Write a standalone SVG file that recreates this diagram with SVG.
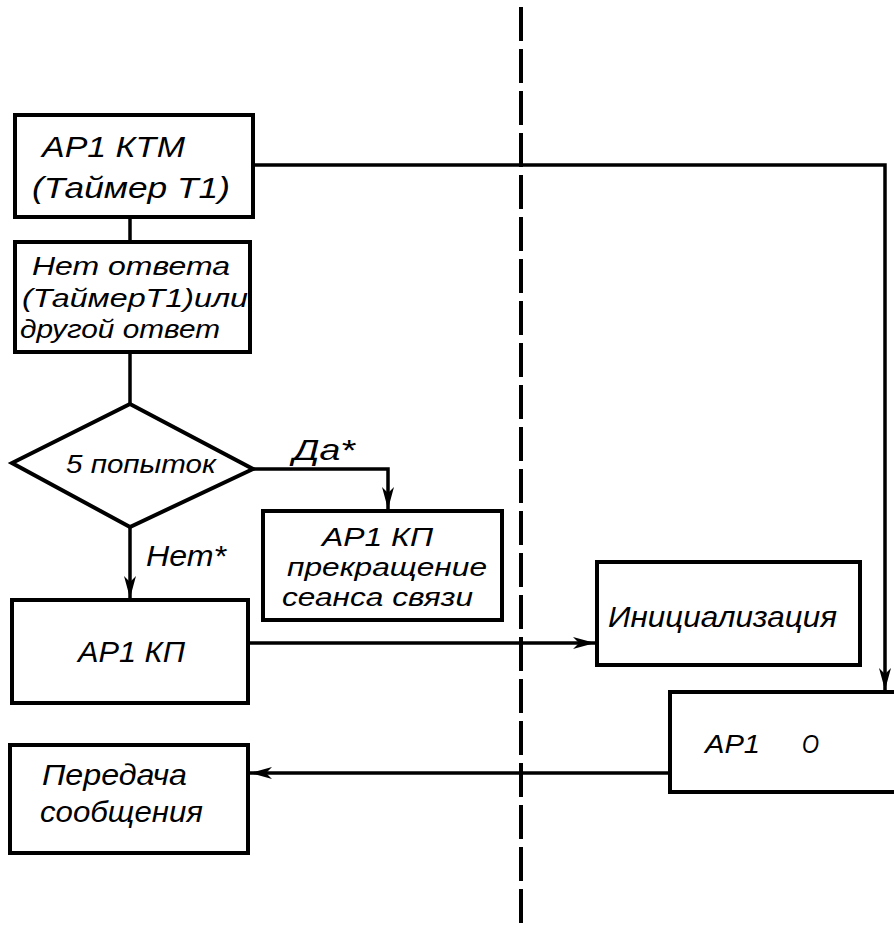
<svg xmlns="http://www.w3.org/2000/svg" width="894" height="930" viewBox="0 0 894 930">
<style>
.box{fill:#fff;stroke:#000;stroke-width:4}
.ln{fill:none;stroke:#000;stroke-width:3.5}
.t{font-family:"Liberation Sans","DejaVu Sans",sans-serif;font-style:italic;font-size:29px;fill:#000}
.s{font-size:26px}
.dash{fill:none;stroke:#000;stroke-width:4;stroke-dasharray:34 8}
</style>
<defs>
<marker id="ah" markerUnits="userSpaceOnUse" markerWidth="24" markerHeight="12" refX="22" refY="6" orient="auto">
<path d="M0,0 L22,6 L0,12 L6,6 z" fill="#000"/>
</marker>
</defs>
<rect width="894" height="930" fill="#fff"/>
<line class="dash" x1="521" y1="7" x2="521" y2="930"/>
<g id="connectors">
<polyline class="ln" points="253,165 885,165 885,690" marker-end="url(#ah)"/>
<line class="ln" x1="130" y1="217" x2="130" y2="242"/>
<line class="ln" x1="130" y1="352" x2="130" y2="404"/>
<polyline class="ln" points="253,469 388,469 388,509" marker-end="url(#ah)"/>
<line class="ln" x1="130" y1="527" x2="130" y2="598" marker-end="url(#ah)"/>
<line class="ln" x1="248" y1="643" x2="595" y2="643" marker-end="url(#ah)"/>
<line class="ln" x1="670" y1="773" x2="250" y2="773" marker-end="url(#ah)"/>
<text class="t" x="293" y="460" textLength="62" lengthAdjust="spacingAndGlyphs">Да*</text>
<text class="t" x="146" y="566" textLength="80" lengthAdjust="spacingAndGlyphs">Нет*</text>
</g>
<g id="ktm">
<rect class="box" x="15" y="115" width="238" height="102"/>
<text class="t" x="42" y="157" textLength="143" lengthAdjust="spacingAndGlyphs">АР1 КТМ</text>
<text class="t" x="32" y="198" textLength="198" lengthAdjust="spacingAndGlyphs">(Таймер Т1)</text>
</g>
<g id="no-answer">
<rect class="box" x="15" y="242" width="235" height="110"/>
<text class="t s" x="32" y="275" textLength="198" lengthAdjust="spacingAndGlyphs">Нет ответа</text>
<text class="t s" x="22" y="307" textLength="226" lengthAdjust="spacingAndGlyphs">(ТаймерТ1)или</text>
<text class="t s" x="20" y="338" textLength="200" lengthAdjust="spacingAndGlyphs">другой ответ</text>
</g>
<g id="attempts">
<polygon class="box" points="130,404 253,469 130,527 12,463"/>
<text class="t s" x="66" y="473" textLength="150" lengthAdjust="spacingAndGlyphs">5 попыток</text>
</g>
<g id="kp-stop">
<rect class="box" x="263" y="511" width="239" height="109"/>
<text class="t s" x="322" y="546" textLength="111" lengthAdjust="spacingAndGlyphs">АР1 КП</text>
<text class="t s" x="287" y="576" textLength="200" lengthAdjust="spacingAndGlyphs">прекращение</text>
<text class="t s" x="282" y="606" textLength="191" lengthAdjust="spacingAndGlyphs">сеанса связи</text>
</g>
<g id="kp">
<rect class="box" x="12" y="600" width="236" height="103"/>
<text class="t" x="78" y="662" textLength="107" lengthAdjust="spacingAndGlyphs">АР1 КП</text>
</g>
<g id="init">
<rect class="box" x="597" y="562" width="263" height="103"/>
<text class="t" x="608" y="627" textLength="229" lengthAdjust="spacingAndGlyphs">Инициализация</text>
</g>
<g id="ap1-o">
<rect class="box" x="670" y="692" width="240" height="100"/>
<text class="t s" x="705" y="753" textLength="55" lengthAdjust="spacingAndGlyphs">АР1</text>
<text class="t s" x="802" y="753" textLength="17" lengthAdjust="spacingAndGlyphs">О</text>
</g>
<g id="send">
<rect class="box" x="10" y="745" width="238" height="108"/>
<text class="t" x="42" y="785" textLength="145" lengthAdjust="spacingAndGlyphs">Передача</text>
<text class="t" x="40" y="822" textLength="163" lengthAdjust="spacingAndGlyphs">сообщения</text>
</g>
</svg>
